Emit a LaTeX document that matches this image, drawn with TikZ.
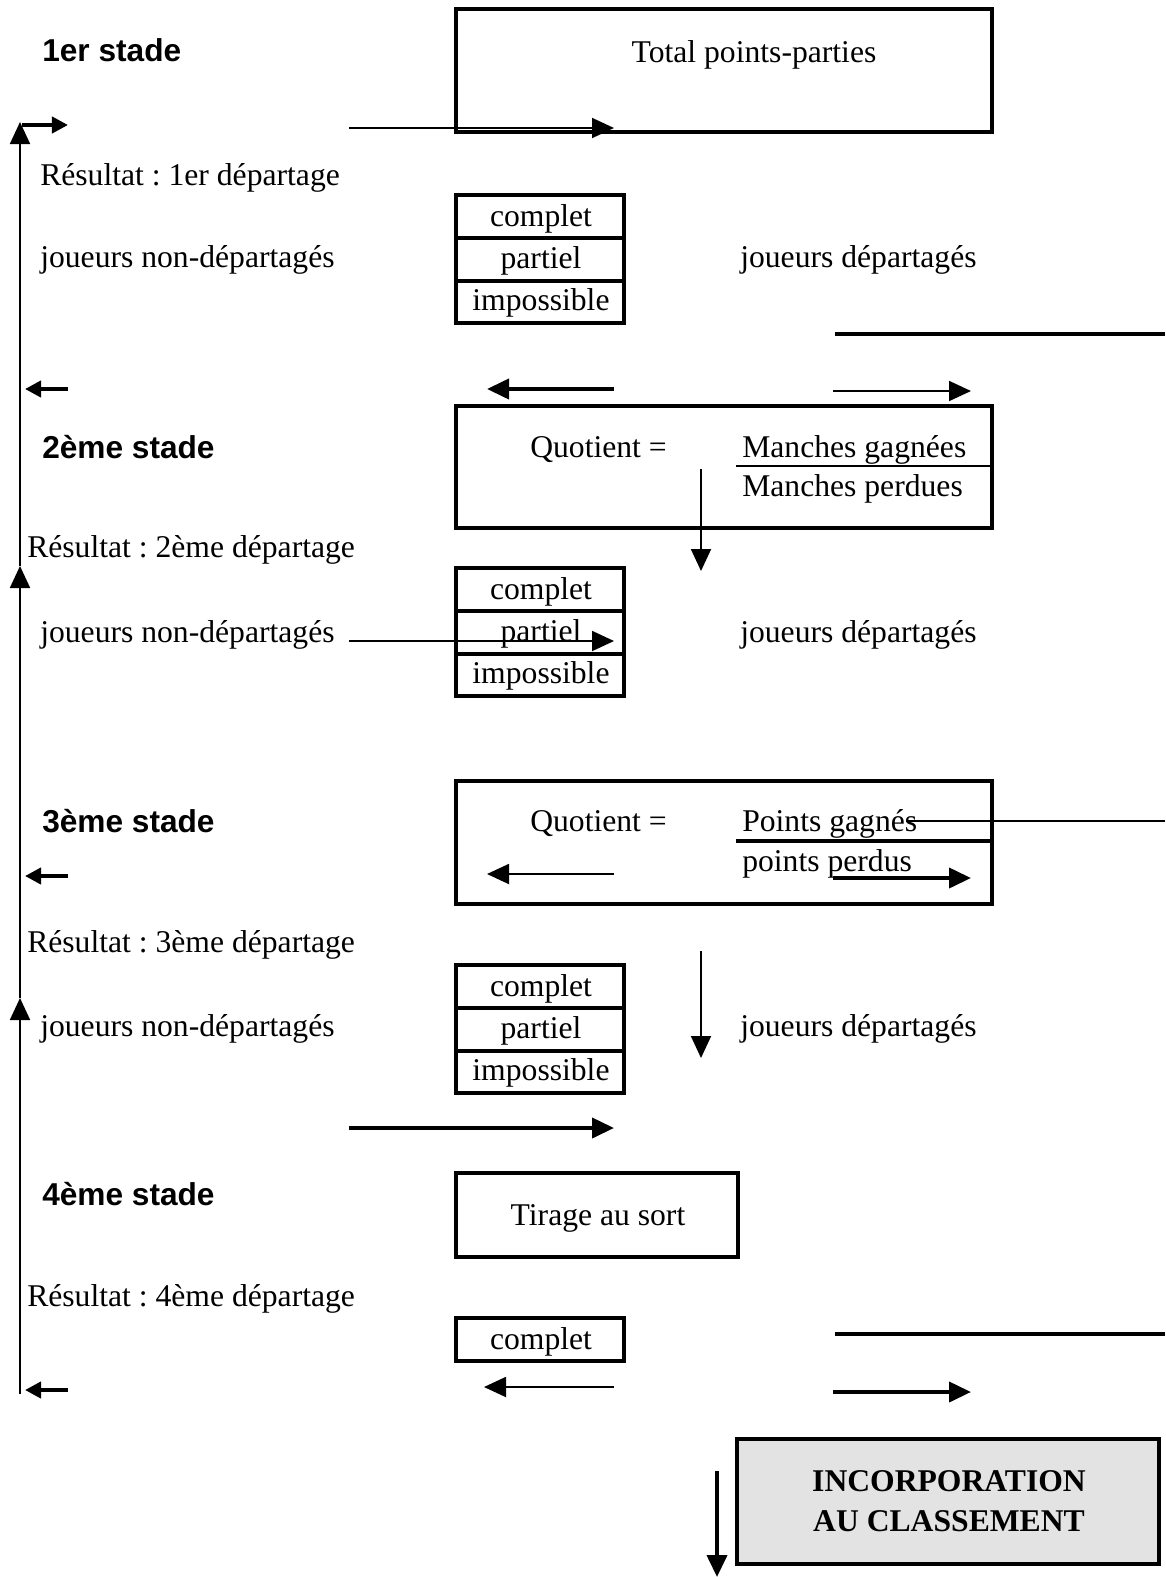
\documentclass[tikz,border=0pt]{standalone}
\usepackage{fontspec}
\setmainfont{Liberation Serif}
\setsansfont{Liberation Sans}
\usetikzlibrary{arrows.meta}
\frenchspacing
\tikzset{
  frame/.style={line width=2.8pt},
  thinline/.style={line width=1.3pt},
  thickline/.style={line width=2.8pt},
  txt/.style={anchor=base west, inner sep=0pt, font=\fontsize{22.5}{27}\selectfont},
  ctxt/.style={anchor=base, inner sep=0pt, font=\fontsize{22.5}{27}\selectfont},
  stade/.style={anchor=base west, inner sep=0pt, font=\fontsize{22.5}{27}\selectfont\sffamily\bfseries},
  bigtip/.style={-{Triangle[length=0.55cm,width=0.5cm]}},
  smalltip/.style={-{Triangle[length=0.4cm,width=0.4cm]}}
}

\begin{document}
\begin{tikzpicture}[x=0.025cm,y=-0.025cm]
   \useasboundingbox (0,0) rectangle (1165,1577);

   % stages on the left
   \node[stade] (st1) at (42,  62) {1er stade};
   \node[stade] (st2) at (42, 458) {2\`eme stade};
   \node[stade] (st3) at (42, 832) {3\`eme stade};
   \node[stade] (st4) at (42,1205) {4\`eme stade};

   \node[txt] (res1) at (40, 185) {R\'esultat : 1er d\'epartage};
   \node[txt] (res2) at (27, 557) {R\'esultat : 2\`eme d\'epartage};
   \node[txt] (res3) at (27, 952) {R\'esultat : 3\`eme d\'epartage};
   \node[txt] (res4) at (27,1306) {R\'esultat : 4\`eme d\'epartage};

   \node[txt] (nondep1) at (40, 267) {joueurs non-d\'epartag\'es};
   \node[txt] (nondep2) at (40, 642) {joueurs non-d\'epartag\'es};
   \node[txt] (nondep3) at (40,1036) {joueurs non-d\'epartag\'es};

   \node[txt] (dep1) at (740, 267) {joueurs d\'epartag\'es};
   \node[txt] (dep2) at (740, 642) {joueurs d\'epartag\'es};
   \node[txt] (dep3) at (740,1036) {joueurs d\'epartag\'es};

   % left return line
   \draw[thinline,bigtip] (20,1394) -- (20, 998);
   \draw[thinline,bigtip] (20, 998) -- (20, 566);
   \draw[thinline,bigtip] (20, 566) -- (20, 122);
   \draw[thickline,smalltip] (22, 125) -- (68, 125);
   \draw[thickline,smalltip] (68, 389) -- (25, 389);
   \draw[thickline,smalltip] (68, 876) -- (25, 876);
   \draw[thickline,smalltip] (68,1390) -- (25,1390);

   % criteria boxes
   \draw[frame] (456,  9) rectangle (992, 132);
   \node[ctxt] (total) at (754, 63) {Total points-parties};

   \draw[frame] (456,406) rectangle (992, 528);
   \node[txt] (quot2) at (530,457) {Quotient =};
   \node[txt] (mg) at (742,457) {Manches gagn\'ees};
   \node[txt] (mp) at (742,496) {Manches perdues};
   \draw[thinline] (736,466) -- (992,466);

   \draw[frame] (456,781) rectangle (992, 904);
   \node[txt] (quot3) at (530,831) {Quotient =};
   \node[txt] (pg) at (742,831) {Points gagn\'es};
   \node[txt] (pp) at (742,871) {points perdus};
   \draw[thickline] (736,841) -- (992,841);
   \draw[thinline] (906,821) -- (1165,821);

   \draw[frame] (456,1173) rectangle (738,1257);
   \node[ctxt] (tirage) at (598,1225) {Tirage au sort};

   % result boxes
   \foreach \y/\n in {195/a,568/b,965/c}{
     \draw[frame] (456,\y) rectangle (624,\y+128);
     \draw[frame] (456,\y+43) -- (624,\y+43);
     \draw[frame] (456,\y+86) -- (624,\y+86);
     \node[ctxt] (compl\n) at (541,\y+31) {complet};
     \node[ctxt] (part\n) at (541,\y+73) {partiel};
     \node[ctxt] (imposs\n) at (541,\y+115) {impossible};
   }
   \draw[frame] (456,1318) rectangle (624,1361);
   \node[ctxt] (compld) at (541,1349) {complet};

   % arrows in the middle
   \draw[thinline,bigtip] (349, 128) -- (614, 128);
   \draw[thickline,bigtip] (614, 389) -- (487, 389);
   \draw[thinline,bigtip] (833, 391) -- (971, 391);
   \draw[thickline] (835, 334) -- (1165, 334);
   \draw[thinline,bigtip] (701, 469) -- (701, 571);
   \draw[thinline,bigtip] (349, 641) -- (614, 641);
   \draw[thinline,bigtip] (614, 874) -- (487, 874);
   \draw[thickline,bigtip] (833, 878) -- (971, 878);
   \draw[thinline,bigtip] (701, 951) -- (701,1058);
   \draw[thickline,bigtip] (349,1128) -- (614,1128);
   \draw[thickline] (835,1334) -- (1165,1334);
   \draw[thinline,bigtip] (614,1387) -- (484,1387);
   \draw[thickline,bigtip] (833,1392) -- (971,1392);

   % final box
   \draw[frame,fill=black!11] (737,1439) rectangle (1159,1564);
   \node[ctxt,font=\fontsize{22.5}{27}\selectfont\bfseries] (incorp) at (949,1491) {INCORPORATION};
   \node[ctxt,font=\fontsize{22.5}{27}\selectfont\bfseries] (classe) at (949,1531) {AU CLASSEMENT};
   \draw[thickline,bigtip] (717,1471) -- (717,1577);
\end{tikzpicture}
\end{document}
